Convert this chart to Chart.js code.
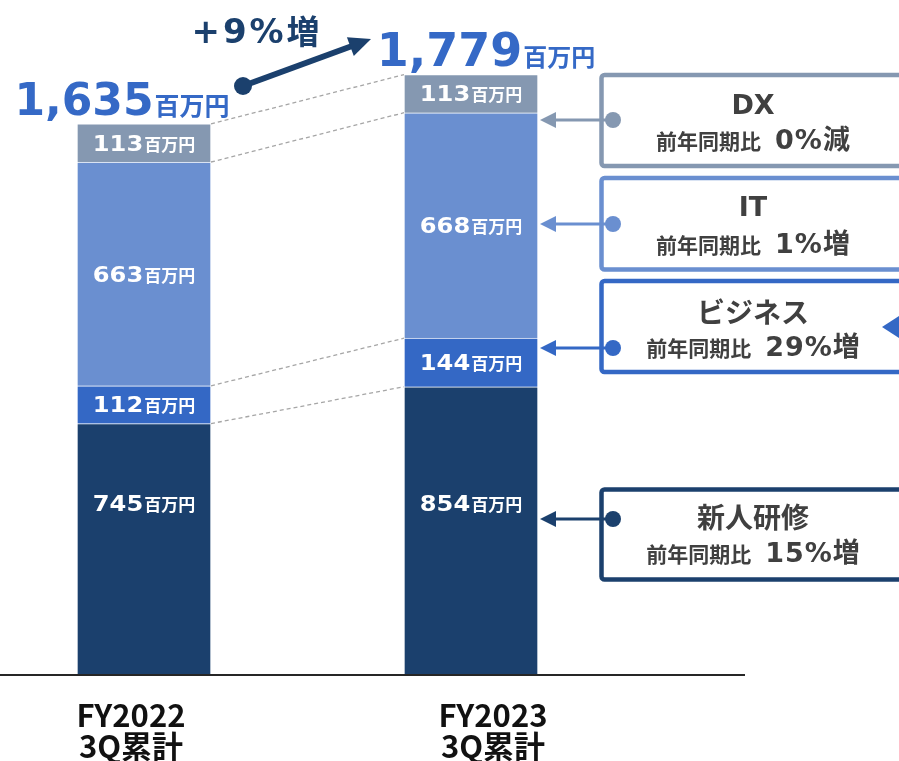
<!DOCTYPE html>
<html lang="ja">
<head>
<meta charset="utf-8">
<title>研修売上 3Q累計</title>
<script src="https://cdn.jsdelivr.net/npm/chart.js@4.4.1/dist/chart.umd.min.js"></script>
<style>
  html, body { margin: 0; padding: 0; background: #fff; }
  #wrap { position: relative; width: 899px; height: 761px; overflow: hidden; }
</style>
</head>
<body>
<div id="wrap"><canvas id="salesChart" width="899" height="761"></canvas></div>
<script>
// 売上（百万円）
const categories = [["FY2022", "3Q累計"], ["FY2023", "3Q累計"]];
const shinjinValues = [745, 854];
const businessValues = [112, 144];
const itValues = [663, 668];
const dxValues = [113, 113];
const totalValues = [1635, 1779];
const segmentNames = ["新人研修", "ビジネス", "IT", "DX"];
const yoyChanges = ["15%増", "29%増", "1%増", "0%減"];
const totalGrowth = "+9%増";
const yMax = 2000;

const segmentColors = ["#1b406d", "#3468c5", "#6a8fd0", "#8598b1"];
const NUM_FONT = '"DejaVu Sans", Verdana, sans-serif';
const JP_FONT = '"Noto Sans CJK JP", "Noto Sans", sans-serif';

// 数字 + 「百万円」を描く。x は左端。stretch は数字の横倍率
function amountWidth(ctx, text, numSize, unitSize, stretch) {
  ctx.font = `bold ${numSize}px ${NUM_FONT}`;
  const nw = ctx.measureText(text).width * stretch;
  ctx.font = `bold ${unitSize}px ${JP_FONT}`;
  return nw + ctx.measureText("百万円").width;
}
function drawAmount(ctx, x, baseline, text, numSize, unitSize, stretch, color) {
  ctx.fillStyle = color;
  ctx.textAlign = "left";
  ctx.textBaseline = "alphabetic";
  ctx.font = `bold ${numSize}px ${NUM_FONT}`;
  const nw = ctx.measureText(text).width * stretch;
  ctx.save();
  ctx.translate(x, baseline);
  ctx.scale(stretch, 1);
  ctx.fillText(text, 0, 0);
  ctx.restore();
  ctx.font = `bold ${unitSize}px ${JP_FONT}`;
  ctx.fillText("百万円", x + nw + 1, baseline);
}

function arrowHead(ctx, tipX, tipY, angle, len, half) {
  ctx.beginPath();
  ctx.moveTo(tipX, tipY);
  ctx.lineTo(tipX - len * Math.cos(angle) + half * Math.sin(angle), tipY - len * Math.sin(angle) - half * Math.cos(angle));
  ctx.lineTo(tipX - len * Math.cos(angle) - half * Math.sin(angle), tipY - len * Math.sin(angle) + half * Math.cos(angle));
  ctx.closePath();
  ctx.fill();
}

// 右側の説明ボックス（上から DX, IT, ビジネス, 新人研修）
const calloutLayout = [
  { ds: 3, top: 75, bottom: 166, pointY: 120, titleY: 104, lineY: 139 },
  { ds: 2, top: 178, bottom: 269.5, pointY: 224, titleY: 206, lineY: 243 },
  { ds: 1, top: 281, bottom: 372, pointY: 348, titleY: 312, lineY: 346 },
  { ds: 0, top: 489.5, bottom: 579.5, pointY: 519, titleY: 517, lineY: 552 }
];

const overlayPlugin = {
  id: "overlay",
  afterDatasetsDraw(chart) {
    const ctx = chart.ctx;
    const yScale = chart.scales.y;
    const xScale = chart.scales.x;
    const metas = chart.data.datasets.map((d, i) => chart.getDatasetMeta(i));
    ctx.save();

    // 軸線
    ctx.strokeStyle = "#262626";
    ctx.lineWidth = 2;
    ctx.beginPath();
    ctx.moveTo(0, yScale.getPixelForValue(0));
    ctx.lineTo(745, yScale.getPixelForValue(0));
    ctx.stroke();

    // 前年と当年の各区切りをつなぐ点線
    ctx.strokeStyle = "#a6a6a6";
    ctx.lineWidth = 1.3;
    ctx.setLineDash([4, 3]);
    metas.forEach((meta) => {
      const a = meta.data[0], b = meta.data[1];
      ctx.beginPath();
      ctx.moveTo(a.x + a.width / 2, a.y);
      ctx.lineTo(b.x - b.width / 2, b.y);
      ctx.stroke();
    });
    ctx.setLineDash([]);

    // 各区分の金額
    metas.forEach((meta, di) => {
      meta.data.forEach((bar, i) => {
        const v = chart.data.datasets[di].data[i];
        const text = String(v);
        // 新人研修は固定の高さに置く
        const cy = di === 0 ? yScale.getPixelForValue(510) : (bar.y + bar.base) / 2;
        const w = amountWidth(ctx, text, 21, 17, 1.15) + 1;
        drawAmount(ctx, bar.x - w / 2, cy + 7.7, text, 21, 17, 1.15, "#ffffff");
      });
    });

    // 合計
    const totalShift = [-22, 15];
    const totalSizes = [[44, 25], [46, 24]];
    totalValues.forEach((t, i) => {
      const bar = metas[3].data[i];
      const text = t.toLocaleString("en-US");
      const [ns, us] = totalSizes[i];
      const w = amountWidth(ctx, text, ns, us, 1) + 1;
      const top = yScale.getPixelForValue(shinjinValues[i] + businessValues[i] + itValues[i] + dxValues[i]);
      drawAmount(ctx, bar.x + totalShift[i] - w / 2, top - 9, text, ns, us, 1, "#3569c6");
    });

    // 伸び率の矢印
    const navy = "#1b406d";
    const p0 = { x: 243, y: 86 }, p1 = { x: 371, y: 39 };
    const ang = Math.atan2(p1.y - p0.y, p1.x - p0.x);
    ctx.strokeStyle = navy;
    ctx.fillStyle = navy;
    ctx.lineWidth = 6;
    ctx.beginPath();
    ctx.moveTo(p0.x, p0.y);
    ctx.lineTo(p1.x - 18 * Math.cos(ang), p1.y - 18 * Math.sin(ang));
    ctx.stroke();
    arrowHead(ctx, p1.x, p1.y, ang, 22, 10);
    ctx.beginPath();
    ctx.arc(p0.x, p0.y, 9, 0, Math.PI * 2);
    ctx.fill();

    // +9%増
    const gNum = totalGrowth.slice(0, -1), gUnit = totalGrowth.slice(-1);
    ctx.font = `bold 34px ${NUM_FONT}`;
    ctx.letterSpacing = "3px";
    const gw = ctx.measureText(gNum).width;
    ctx.letterSpacing = "0px";
    ctx.font = `bold 33px ${JP_FONT}`;
    const uw = ctx.measureText(gUnit).width;
    const gx = 255.5 - (gw + uw) / 2;
    ctx.textAlign = "left";
    ctx.textBaseline = "alphabetic";
    ctx.font = `bold 34px ${NUM_FONT}`;
    ctx.letterSpacing = "3px";
    ctx.fillText(gNum, gx, 43);
    ctx.letterSpacing = "0px";
    ctx.font = `bold 33px ${JP_FONT}`;
    ctx.fillText(gUnit, gx + gw, 44);

    // 説明ボックス
    const barRight = metas[0].data[1].x + metas[0].data[1].width / 2;
    calloutLayout.forEach((c) => {
      const col = segmentColors[c.ds];
      ctx.strokeStyle = col;
      ctx.fillStyle = col;
      ctx.lineWidth = 4.5;
      ctx.beginPath();
      ctx.roundRect(601.5, c.top, 320, c.bottom - c.top, 3);
      ctx.stroke();

      // 矢印
      ctx.lineWidth = 3;
      ctx.beginPath();
      ctx.moveTo(613, c.pointY);
      ctx.lineTo(barRight + 14, c.pointY);
      ctx.stroke();
      arrowHead(ctx, barRight + 2, c.pointY, Math.PI, 16, 8);
      ctx.beginPath();
      ctx.arc(613, c.pointY, 8, 0, Math.PI * 2);
      ctx.fill();

      // タイトル
      const title = segmentNames[c.ds];
      ctx.fillStyle = "#404040";
      ctx.textAlign = "center";
      if (/^[A-Z]+$/.test(title)) {
        ctx.font = `bold 27px ${NUM_FONT}`;
        ctx.fillText(title, 753, c.titleY + 9.8);
      } else {
        ctx.font = `bold 28px ${JP_FONT}`;
        ctx.fillText(title, 753, c.titleY + 10.6);
      }

      // 前年同期比
      const chg = yoyChanges[c.ds];
      const chgNum = chg.slice(0, -1), chgUnit = chg.slice(-1);
      ctx.textAlign = "left";
      ctx.font = `bold 21px ${JP_FONT}`;
      const lw = ctx.measureText("前年同期比").width;
      ctx.font = `bold 27px ${NUM_FONT}`;
      ctx.letterSpacing = "1px";
      const nw = ctx.measureText(chgNum).width;
      ctx.letterSpacing = "0px";
      ctx.font = `bold 27px ${JP_FONT}`;
      const cw = ctx.measureText(chgUnit).width;
      const gap = 14;
      let x = 753 - (lw + gap + nw + cw) / 2;
      const base = c.lineY + 9.5;
      ctx.font = `bold 21px ${JP_FONT}`;
      ctx.fillText("前年同期比", x, base);
      x += lw + gap;
      ctx.font = `bold 27px ${NUM_FONT}`;
      ctx.letterSpacing = "1px";
      ctx.fillText(chgNum, x, base);
      ctx.letterSpacing = "0px";
      x += nw;
      ctx.font = `bold 27px ${JP_FONT}`;
      ctx.fillText(chgUnit, x, base + 0.5);
    });

    // ビジネス枠右端の三角
    ctx.fillStyle = segmentColors[1];
    ctx.beginPath();
    ctx.moveTo(882, 327);
    ctx.lineTo(902, 314);
    ctx.lineTo(902, 340);
    ctx.closePath();
    ctx.fill();

    // 期間ラベル
    const labelShift = [-13, 22];
    ctx.fillStyle = "#111111";
    ctx.textAlign = "center";
    ctx.font = `bold 31px ${JP_FONT}`;
    categories.forEach((lines, i) => {
      const cx = xScale.getPixelForValue(i) + labelShift[i];
      ctx.fillText(lines[0], cx, 727);
      ctx.fillText(lines[1], cx, 758);
    });

    ctx.restore();
  }
};

const datasetStyle = {
  barThickness: 134,
  clip: false,
  borderWidth: 1,
  borderColor: "rgba(255,255,255,0.3)"
};

const salesChart = new Chart(document.getElementById("salesChart"), {
  type: "bar",
  data: {
    labels: categories,
    datasets: [
      { label: segmentNames[0], data: shinjinValues, backgroundColor: segmentColors[0], ...datasetStyle },
      { label: segmentNames[1], data: businessValues, backgroundColor: segmentColors[1], ...datasetStyle },
      { label: segmentNames[2], data: itValues, backgroundColor: segmentColors[2], ...datasetStyle },
      { label: segmentNames[3], data: dxValues, backgroundColor: segmentColors[3], ...datasetStyle }
    ]
  },
  options: {
    responsive: false,
    animation: false,
    devicePixelRatio: 1,
    layout: { padding: { left: 144, right: 428, top: 0, bottom: 86 } },
    plugins: {
      legend: { display: false },
      tooltip: { enabled: false }
    },
    scales: {
      x: { stacked: true, display: false, offset: false },
      y: { stacked: true, display: false, min: 0, max: yMax }
    }
  },
  plugins: [overlayPlugin]
});
</script>
</body>
</html>
